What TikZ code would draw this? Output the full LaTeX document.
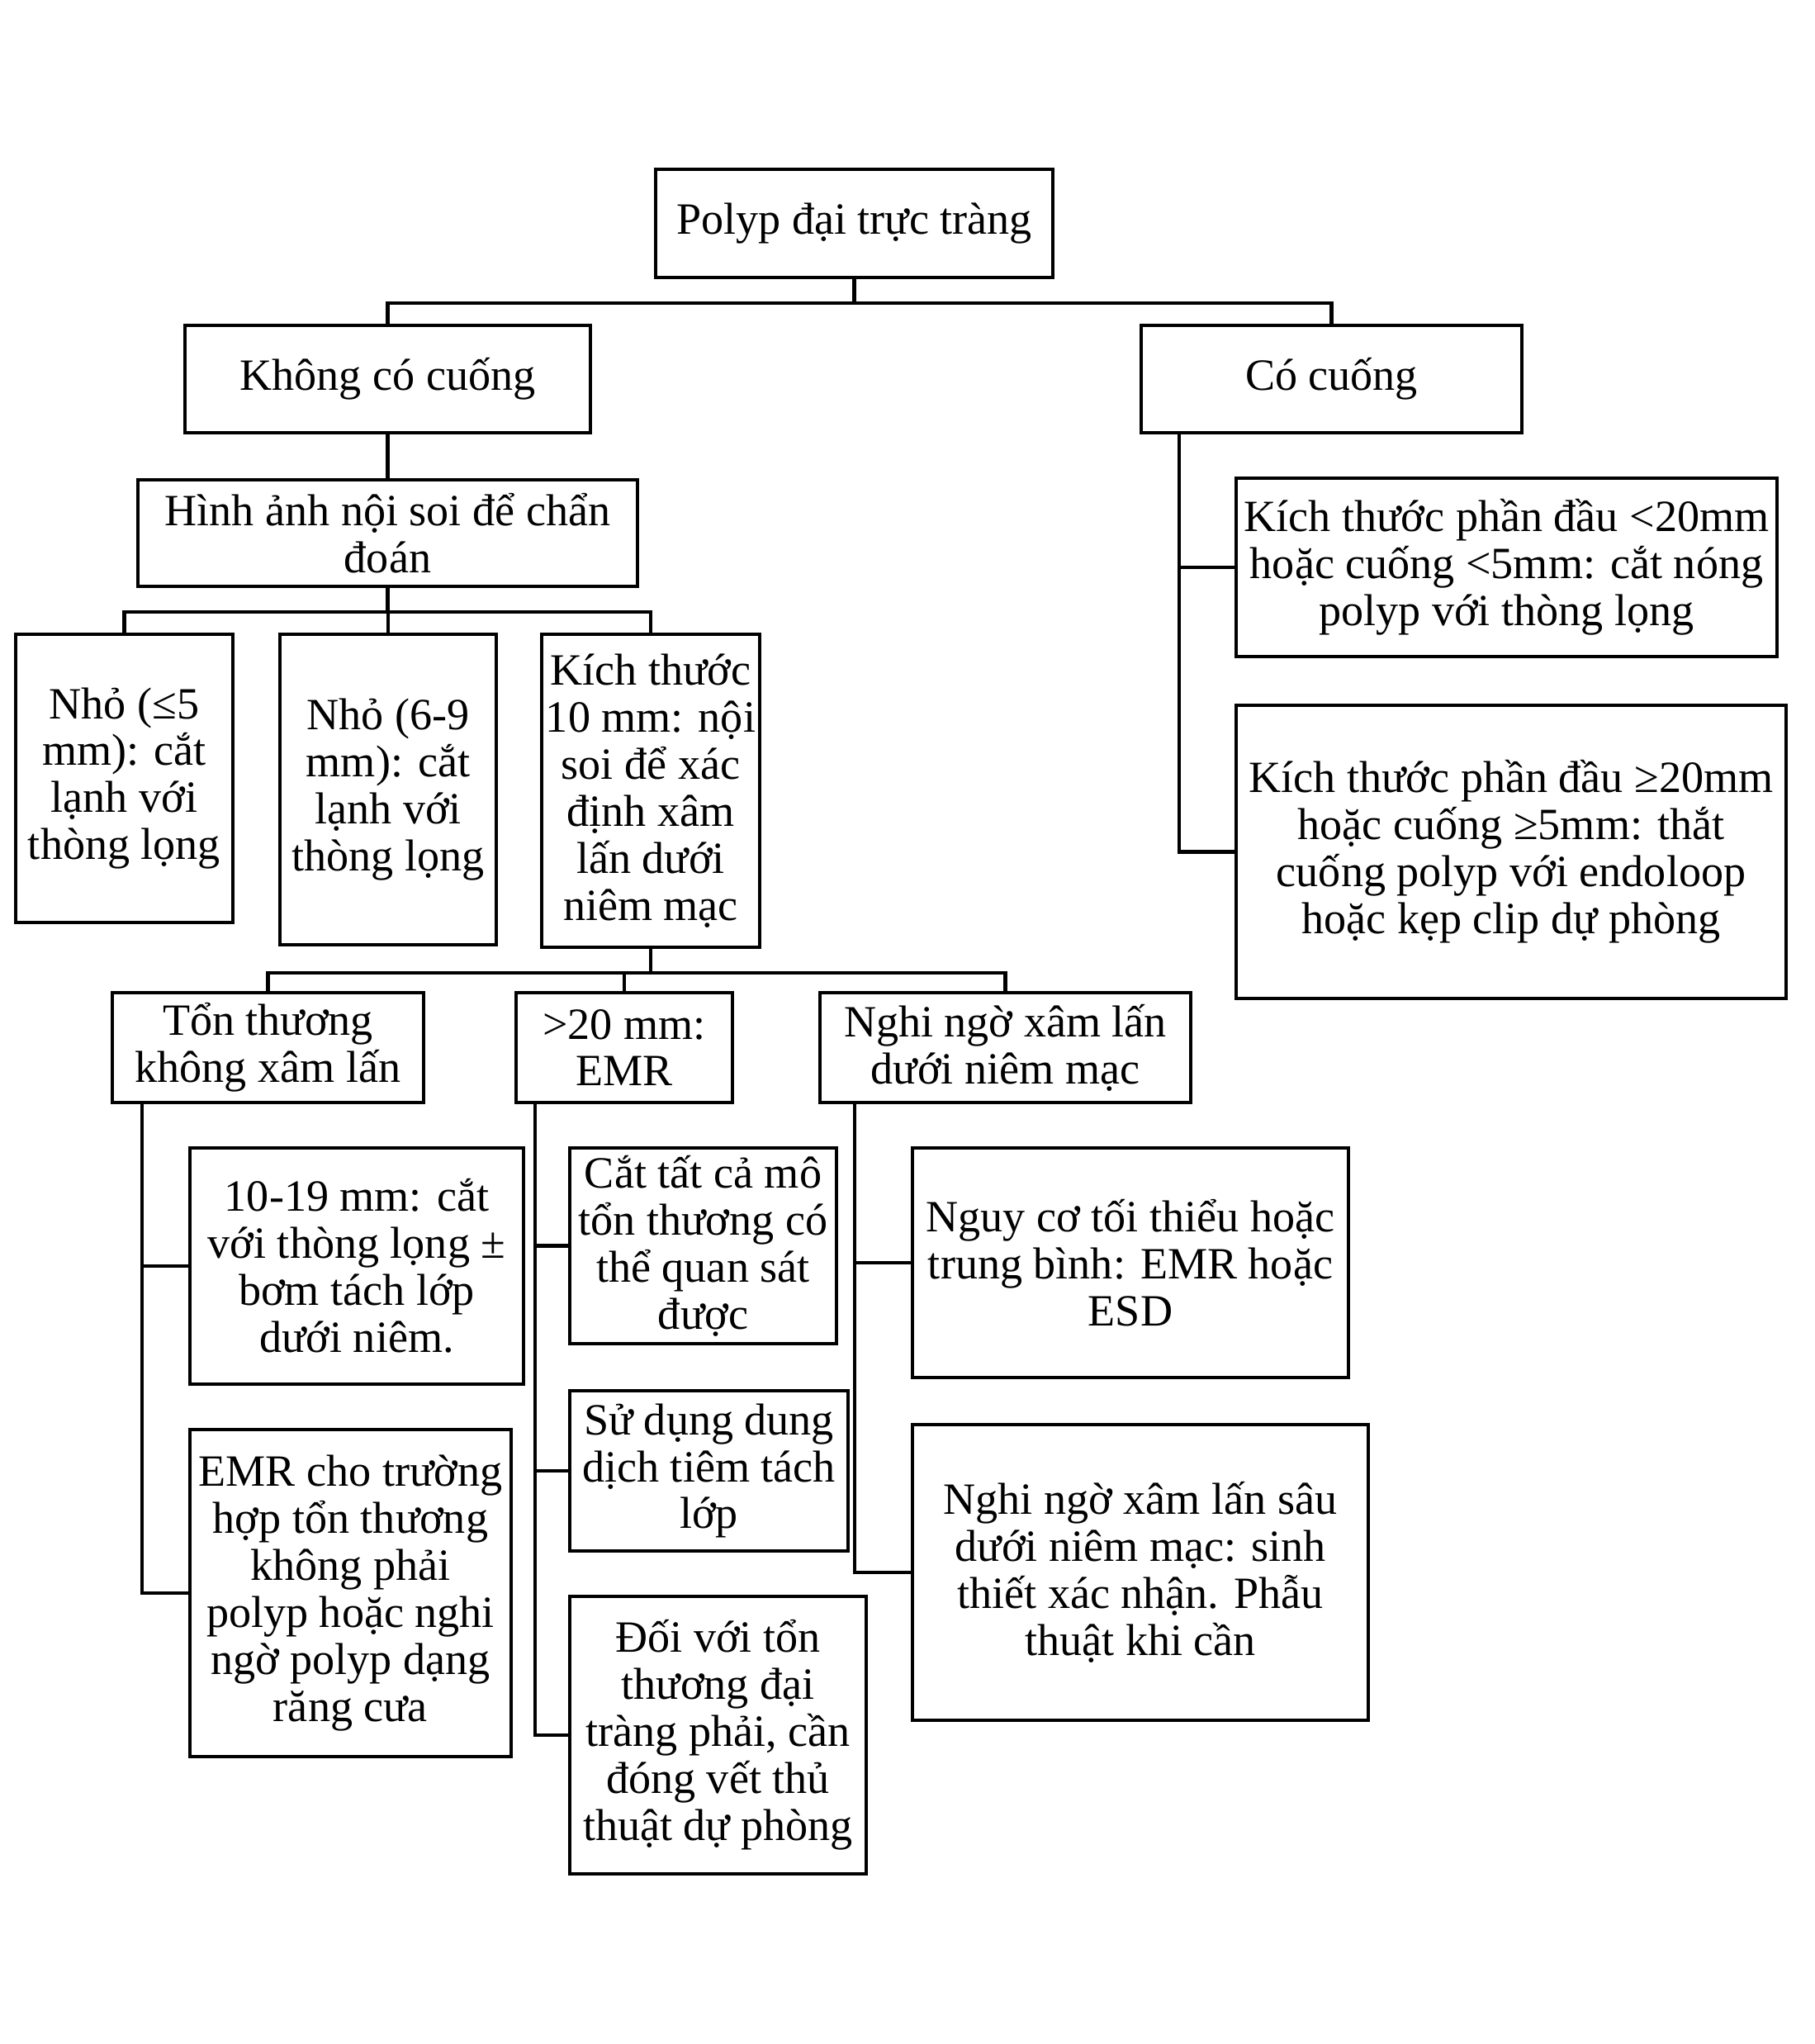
\documentclass[tikz,border=0pt]{standalone}
\usepackage{fontspec}
\setmainfont{Liberation Serif}
\usetikzlibrary{positioning, calc}

\begin{document}
\begin{tikzpicture}[box/.style={draw, line width=1.3pt, align=center, inner sep=1pt, font=\fontsize{15.4}{16.2}\selectfont}, conn/.style={line width=1.2pt}]
		\useasboundingbox (0,0) rectangle (21.98,-24.75);
		\node[box, minimum width=4.81cm, minimum height=1.31cm] at (10.345,-2.705) (root) {Polyp đại trực tràng};
		\node[box, minimum width=4.91cm, minimum height=1.30cm] at (4.695,-4.59) (nocap) {Không có cuống};
		\node[box, minimum width=4.61cm, minimum height=1.30cm] at (16.125,-4.59) (cap) {Có cuống};
		\node[box, minimum width=6.05cm, minimum height=1.29cm] at (4.695,-6.455) (diag) {Hình ảnh nội soi để chẩn\\đoán};
		\node[box, minimum width=2.63cm, minimum height=3.49cm] at (1.505,-9.425) (small5) {Nhỏ (≤5\\mm): cắt\\lạnh với\\thòng lọng};
		\node[box, minimum width=2.62cm, minimum height=3.76cm] at (4.70,-9.56) (small69) {Nhỏ (6-9\\mm): cắt\\lạnh với\\thòng lọng};
		\node[box, minimum width=2.64cm, minimum height=3.79cm] at (7.88,-9.575) (size10) {Kích thước\\10 mm: nội\\soi để xác\\định xâm\\lấn dưới\\niêm mạc};
		\node[box, minimum width=3.77cm, minimum height=1.33cm] at (3.245,-12.685) (les) {Tổn thương\\không xâm lấn};
		\node[box, minimum width=2.62cm, minimum height=1.33cm] at (7.56,-12.685) (emr) {>20 mm:\\EMR};
		\node[box, minimum width=4.49cm, minimum height=1.33cm] at (12.175,-12.685) (susp) {Nghi ngờ xâm lấn\\dưới niêm mạc};
		\node[box, minimum width=4.04cm, minimum height=2.86cm] at (4.32,-15.33) (snare) {10-19 mm: cắt\\với thòng lọng ±\\bơm tách lớp\\dưới niêm.};
		\node[box, minimum width=3.89cm, minimum height=3.96cm] at (4.245,-19.29) (serr) {EMR cho trường\\hợp tổn thương\\không phải\\polyp hoặc nghi\\ngờ polyp dạng\\răng cưa};
		\node[box, minimum width=3.23cm, minimum height=2.37cm] at (8.515,-15.085) (cutall) {Cắt tất cả mô\\tổn thương có\\thể quan sát\\được};
		\node[box, minimum width=3.37cm, minimum height=1.94cm] at (8.585,-17.81) (inject) {Sử dụng dung\\dịch tiêm tách\\lớp};
		\node[box, minimum width=3.59cm, minimum height=3.36cm] at (8.695,-21.01) (clip) {Đối với tổn\\thương đại\\tràng phải, cần\\đóng vết thủ\\thuật dự phòng};
		\node[box, minimum width=5.28cm, minimum height=2.78cm] at (13.69,-15.29) (risk) {Nguy cơ tối thiểu hoặc\\trung bình: EMR hoặc\\ESD};
		\node[box, minimum width=5.52cm, minimum height=3.58cm] at (13.81,-19.04) (deep) {Nghi ngờ xâm lấn sâu\\dưới niêm mạc: sinh\\thiết xác nhận. Phẫu\\thuật khi cần};
		\node[box, minimum width=6.55cm, minimum height=2.16cm] at (18.245,-6.87) (head) {Kích thước phần đầu <20mm\\hoặc cuống <5mm: cắt nóng\\polyp với thòng lọng};
		\node[box, minimum width=6.66cm, minimum height=3.55cm] at (18.30,-10.315) (loop) {Kích thước phần đầu ≥20mm\\hoặc cuống ≥5mm: thắt\\cuống polyp với endoloop\\hoặc kẹp clip dự phòng};
		\foreach \from/\to in {root/nocap,root/cap,nocap/diag,diag/small5,diag/small69,diag/size10,size10/les,size10/emr,size10/susp}
			\draw[conn] (\from.south) -- ++(0,-0.29) -| (\to.north);
		\foreach \from/\to/\dx in {les/snare/0.38,les/serr/0.38,emr/cutall/0.25,emr/inject/0.25,emr/clip/0.25,susp/risk/0.44,susp/deep/0.44,cap/head/0.48,cap/loop/0.48}
			\draw[conn] ([xshift=\dx cm]\from.south west) |- (\to.west);
	\end{tikzpicture}
\end{document}
